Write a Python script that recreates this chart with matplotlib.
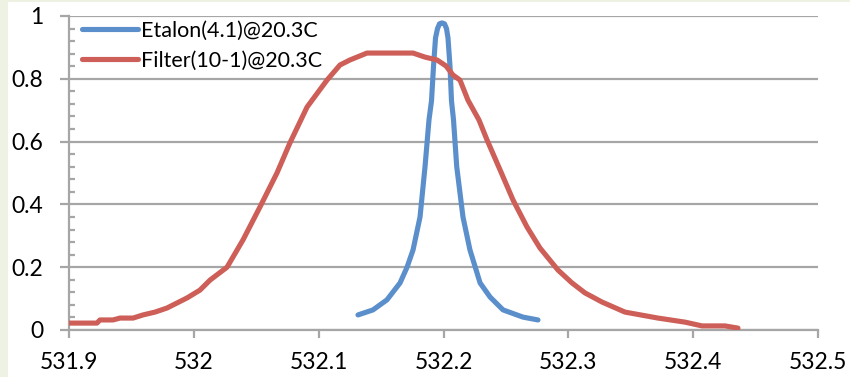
import matplotlib
matplotlib.use("Agg")
import matplotlib.pyplot as plt
from matplotlib.ticker import MultipleLocator
from matplotlib.patches import Rectangle

# ---- data ----
etalon_label = "Etalon(4.1)@20.3C"
etalon_x = [532.1315, 532.1435, 532.1547, 532.1652, 532.1708, 532.1756, 532.1812,
            532.1852, 532.1884, 532.1904, 532.1920, 532.1936, 532.1952, 532.1968,
            532.1988, 532.2008, 532.2024, 532.2036, 532.2052, 532.2064, 532.2080,
            532.2106, 532.2156, 532.2212, 532.2293, 532.2373, 532.2477, 532.2637,
            532.2757]
etalon_y = [0.048, 0.064, 0.096, 0.15, 0.20, 0.255, 0.36,
            0.52, 0.67, 0.73, 0.84, 0.93, 0.96, 0.975,
            0.978, 0.975, 0.96, 0.93, 0.84, 0.73, 0.67,
            0.52, 0.36, 0.255, 0.15, 0.105, 0.064, 0.041,
            0.032]

filter_label = "Filter(10-1)@20.3C"
filter_x = [531.9000, 531.9224, 531.9248, 531.9352, 531.9409, 531.9513, 531.9593,
            531.9689, 531.9785, 531.9945, 532.0049, 532.0130, 532.0266, 532.0394,
            532.0530, 532.0666, 532.0770, 532.0907, 532.1067, 532.1171, 532.1251,
            532.1387, 532.1756, 532.1852, 532.1948, 532.2020, 532.2076, 532.2132,
            532.2196, 532.2284, 532.2349, 532.2453, 532.2557, 532.2669, 532.2773,
            532.2917, 532.3029, 532.3134, 532.3270, 532.3454, 532.3718, 532.3935,
            532.4071, 532.4255, 532.4359]
filter_y = [0.022, 0.022, 0.032, 0.032, 0.038, 0.038, 0.048,
            0.057, 0.070, 0.102, 0.127, 0.159, 0.200, 0.287,
            0.392, 0.500, 0.596, 0.710, 0.796, 0.844, 0.860,
            0.882, 0.882, 0.869, 0.860, 0.841, 0.812, 0.796,
            0.732, 0.669, 0.605, 0.510, 0.414, 0.328, 0.261,
            0.191, 0.150, 0.118, 0.089, 0.057, 0.038, 0.025,
            0.013, 0.013, 0.006]

x_ticks = [531.9, 532.0, 532.1, 532.2, 532.3, 532.4, 532.5]
x_tick_labels = ["531.9", "532", "532.1", "532.2", "532.3", "532.4", "532.5"]
y_ticks = [0, 0.2, 0.4, 0.6, 0.8, 1.0]
y_tick_labels = ["0", "0.2", "0.4", "0.6", "0.8", "1"]

# ---- style ----
plt.rcParams['font.family'] = ['Lato', 'DejaVu Sans']
W, H = 850, 377
fig = plt.figure(figsize=(W / 100, H / 100), dpi=100)
fig.patch.set_facecolor('white')
border = '#EEF2E3'
fig.patches.append(Rectangle((0, 0), 8 / W, 1, transform=fig.transFigure,
                             facecolor=border, edgecolor='none', zorder=0))
fig.patches.append(Rectangle((0, 1 - 2 / H), 1, 2 / H, transform=fig.transFigure,
                             facecolor=border, edgecolor='none', zorder=0))

ax = fig.add_axes([69 / W, 47 / H, 749 / W, 314 / H])
ax.set_facecolor('white')

grid_c = '#A6A6A6'
blue = '#5B8FCB'
red = '#CD5F58'

ax.plot(etalon_x, etalon_y, color=blue, lw=3.7, solid_capstyle='round',
        solid_joinstyle='round', label=etalon_label, zorder=3)
ax.plot(filter_x, filter_y, color=red, lw=3.7, solid_capstyle='round',
        solid_joinstyle='round', label=filter_label, zorder=3)

ax.set_xlim(531.9, 532.5)
ax.set_ylim(0, 1)
ax.set_xticks(x_ticks)
ax.set_xticklabels(x_tick_labels)
ax.set_yticks(y_ticks)
ax.set_yticklabels(y_tick_labels)
ax.yaxis.set_minor_locator(MultipleLocator(0.04))

ax.yaxis.grid(True, color=grid_c, lw=1.6, zorder=1)
ax.set_axisbelow(True)
for s in ['top', 'right']:
    ax.spines[s].set_visible(False)
for s in ['left', 'bottom']:
    ax.spines[s].set_color(grid_c)
    ax.spines[s].set_linewidth(1.6)

ax.tick_params(axis='x', which='major', direction='out', length=6, width=1.6,
               color=grid_c, labelsize=16.5, pad=10, labelcolor='black')
ax.tick_params(axis='y', which='major', direction='out', length=6.5, width=1.6,
               color=grid_c, labelsize=16.5, pad=12, labelcolor='black')
ax.tick_params(axis='y', which='minor', direction='in', length=4, width=1.6,
               color=grid_c)

leg = ax.legend(loc='upper left', bbox_to_anchor=(0.0174, 0.985), frameon=False,
                fontsize=15.5, handlelength=2.6, handletextpad=0.15,
                labelspacing=0.45, borderaxespad=0, borderpad=0)
for h in leg.get_lines():
    h.set_linewidth(3.7)

fig.savefig('out.png', dpi=100, facecolor=fig.get_facecolor())
